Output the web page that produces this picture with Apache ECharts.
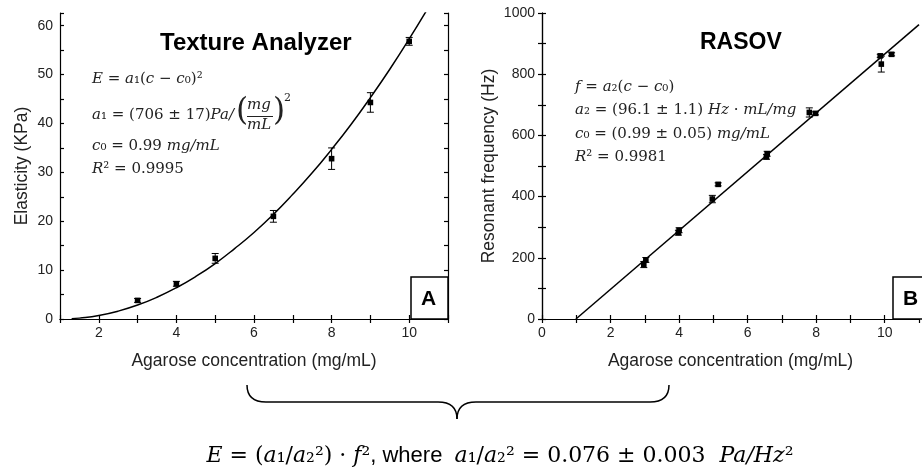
<!DOCTYPE html>
<html>
<head>
<meta charset="utf-8">
<script src="https://cdn.jsdelivr.net/npm/echarts@6/dist/echarts.min.js"></script>
<style>
html,body{margin:0;padding:0;background:#fff;}
#chart{width:922px;height:475px;}
</style>
</head>
<body>
<div id="chart"></div>
<script>
// ---- Panel A: Texture Analyzer ----
var taConc = [3, 4, 5, 6.5, 8, 9, 10];
var taElast = [3.8, 7.2, 12.4, 21.0, 32.8, 44.3, 56.8];
var taErr = [0.4, 0.5, 1.0, 1.2, 2.2, 2.0, 0.8];
var taFitConc = [1.3, 1.5, 2, 2.5, 3, 3.5, 4, 4.5, 5, 5.5, 6, 6.5, 7, 7.5, 8, 8.5, 9, 9.5, 10, 10.5];
var taFitElast = [0.07, 0.18, 0.72, 1.61, 2.85, 4.45, 6.4, 8.7, 11.35, 14.4, 17.7, 21.4, 25.5, 29.9, 34.7, 39.8, 45.3, 51.1, 57.3, 63.8];

// ---- Panel B: RASOV ----
var rConc = [2.97, 3.03, 3.98, 4.0, 4.97, 5.14, 6.55, 6.57, 7.8, 7.98, 9.87, 9.9, 10.2];
var rFreq = [178, 193, 282, 290, 392, 440, 530, 540, 675, 672, 860, 833, 865];
var rErr = [10, 8, 8, 8, 12, 5, 8, 8, 15, 5, 5, 26, 5];
var rFitConc = [0.99, 11];
var rFitFreq = [0, 962];

var xTicksA = [2, 4, 6, 8, 10];
var yTicksA = [0, 10, 20, 30, 40, 50, 60];
var xTicksB = [0, 2, 4, 6, 8, 10];
var yTicksB = [0, 200, 400, 600, 800, 1000];

function zip3(a, b, c) { return a.map(function (v, i) { return [v, b[i], c[i]]; }); }
function zip2(a, b) { return a.map(function (v, i) { return [v, b[i]]; }); }

var SANS = 'Liberation Sans, Arial, sans-serif';
var SERIF = 'DejaVu Serif, serif';

var mctx = document.createElement('canvas').getContext('2d');
function tw(font, s) { mctx.font = font; return mctx.measureText(s).width; }

function errRender(params, api) {
  var x = api.value(0), y = api.value(1), e = api.value(2);
  var p = api.coord([x, y]);
  var hi = api.coord([x, y + e]);
  var lo = api.coord([x, y - e]);
  var cw = 3.5, s = 2.8;
  var st = { stroke: '#000', lineWidth: 1 };
  return {
    type: 'group',
    children: [
      { type: 'line', shape: { x1: p[0], y1: hi[1], x2: p[0], y2: lo[1] }, style: st },
      { type: 'line', shape: { x1: p[0] - cw, y1: hi[1], x2: p[0] + cw, y2: hi[1] }, style: st },
      { type: 'line', shape: { x1: p[0] - cw, y1: lo[1], x2: p[0] + cw, y2: lo[1] }, style: st },
      { type: 'rect', shape: { x: p[0] - s, y: p[1] - s, width: 2 * s, height: 2 * s }, style: { fill: '#000' } }
    ]
  };
}

function labelFmt(list) {
  return function (v) { return list.indexOf(Math.round(v * 100) / 100) >= 0 ? String(v) : ''; };
}

var axisLineStyle = { show: true, lineStyle: { color: '#000', width: 1.2 } };
var tickStyle = { show: true, inside: true, length: 4, lineStyle: { color: '#000', width: 1.2 } };
var labelStyle = { color: '#222', fontFamily: SANS, fontSize: 14 };
var nameStyle = { color: '#222', fontFamily: SANS, fontSize: 17.5 };

function xMain(grid, min, max, ticks) {
  return {
    type: 'value', gridIndex: grid, min: min, max: max, interval: 1, position: 'bottom',
    axisLine: axisLineStyle, axisTick: tickStyle, splitLine: { show: false },
    axisLabel: Object.assign({ margin: 7, formatter: labelFmt(ticks), showMinLabel: true, showMaxLabel: true }, labelStyle),
    name: 'Agarose concentration (mg/mL)', nameLocation: 'middle', nameGap: 33, nameTextStyle: nameStyle
  };
}
function xTop(grid, min, max) {
  return {
    type: 'value', gridIndex: grid, min: min, max: max, interval: 1, position: 'top',
    axisLine: axisLineStyle, axisTick: tickStyle, splitLine: { show: false }, axisLabel: { show: false }
  };
}
function yMain(grid, min, max, iv, ticks, name, gap) {
  return {
    type: 'value', gridIndex: grid, min: min, max: max, interval: iv, position: 'left',
    axisLine: axisLineStyle, axisTick: tickStyle, splitLine: { show: false },
    axisLabel: Object.assign({ margin: 7, formatter: labelFmt(ticks) }, labelStyle),
    name: name, nameLocation: 'middle', nameGap: gap, nameRotate: 90, nameTextStyle: nameStyle
  };
}
function yRight(grid, min, max, iv) {
  return {
    type: 'value', gridIndex: grid, min: min, max: max, interval: iv, position: 'right',
    axisLine: axisLineStyle, axisTick: tickStyle, splitLine: { show: false }, axisLabel: { show: false }
  };
}

var chart = echarts.init(document.getElementById('chart'), null, { renderer: 'canvas' });

var eqI = { fontFamily: SERIF, fontStyle: 'italic', fontSize: 15, color: '#222' };
var eqR = { fontFamily: SERIF, fontSize: 15, color: '#222' };

function eqText(x, y, text) {
  return { type: 'text', x: x, y: y, z: 50, style: { text: text, rich: { i: eqI, r: eqR }, fill: '#222', font: '15px ' + SERIF } };
}
function txt(x, y, text, font, color, z) {
  return { type: 'text', x: x, y: y, z: z || 50, style: { text: text, font: font, fill: color || '#222' } };
}
var braceStyle = { fill: 'none', stroke: '#000', lineWidth: 1.5 };

// position of the stacked fraction after "a1 = (706 ± 17)Pa/"
var fx = 92 + tw('italic 15px DejaVu Serif', 'a') + tw('15px DejaVu Serif', '₁ = (706 ± 17)') + tw('italic 15px DejaVu Serif', 'Pa/') + 2;

// bottom equation width for centring
var BF = 22;
var bI = 'italic ' + BF + 'px DejaVu Serif', bR = BF + 'px DejaVu Serif', bS = BF + 'px Liberation Sans';
var bottomW = tw(bI, 'E') + tw(bR, ' = (') + tw(bI, 'a') + tw(bR, '₁/') + tw(bI, 'a') + tw(bR, '₂²) · ') + tw(bI, 'f') + tw(bR, '²') +
  tw(bS, ', where  ') + tw(bI, 'a') + tw(bR, '₁/') + tw(bI, 'a') + tw(bR, '₂² = 0.076 ± 0.003  ') + tw(bI, 'Pa/Hz') + tw(bR, '²');
var bottomX = 500 - bottomW / 2;

var option = {
  animation: false,
  backgroundColor: '#fff',
  grid: [
    { left: 60, right: 474, top: 13, bottom: 156 },
    { left: 542, right: -8, top: 13, bottom: 156 }
  ],
  xAxis: [xMain(0, 1, 11, xTicksA), xTop(0, 1, 11), xMain(1, 0, 11, xTicksB), xTop(1, 0, 11)],
  yAxis: [
    yMain(0, 0, 62.6, 5, yTicksA, 'Elasticity (KPa)', 29), yRight(0, 0, 62.6, 5),
    yMain(1, 0, 1000, 100, yTicksB, 'Resonant frequency (Hz)', 44), yRight(1, 0, 1000, 100)
  ],
  series: [
    { type: 'line', xAxisIndex: 0, yAxisIndex: 0, data: zip2(taFitConc, taFitElast), smooth: true, showSymbol: false, symbol: 'none',
      lineStyle: { color: '#000', width: 1.5 }, clip: true, z: 3 },
    { type: 'custom', xAxisIndex: 0, yAxisIndex: 0, data: zip3(taConc, taElast, taErr), renderItem: errRender, z: 4 },
    { type: 'line', xAxisIndex: 2, yAxisIndex: 2, data: zip2(rFitConc, rFitFreq), showSymbol: false, symbol: 'none',
      lineStyle: { color: '#000', width: 1.5 }, clip: true, z: 3 },
    { type: 'custom', xAxisIndex: 2, yAxisIndex: 2, data: zip3(rConc, rFreq, rErr), renderItem: errRender, z: 4 }
  ],
  graphic: [
    txt(160, 31, 'Texture Analyzer', 'bold 24px ' + SANS, '#000'),
    txt(700, 31, 'RASOV', 'bold 23px ' + SANS, '#000'),
    // panel letters
    { type: 'rect', shape: { x: 411, y: 277, width: 37, height: 42 }, style: { fill: '#fff', stroke: '#000', lineWidth: 1.5 }, z: 20 },
    txt(421, 289, 'A', 'bold 21px ' + SANS, '#000', 21),
    { type: 'rect', shape: { x: 893, y: 277, width: 37, height: 42 }, style: { fill: '#fff', stroke: '#000', lineWidth: 1.5 }, z: 20 },
    txt(903, 289, 'B', 'bold 21px ' + SANS, '#000', 21),
    // equations A
    eqText(92, 72, '{i|E}{r| = }{i|a}{r|₁(}{i|c}{r| − }{i|c}{r|₀)²}'),
    eqText(92, 108, '{i|a}{r|₁ = (706 ± 17)}{i|Pa/}'),
    txt(fx, 96, '(', '31px ' + SERIF),
    txt(fx + 11, 98, 'mg', 'italic 15px ' + SERIF),
    { type: 'line', z: 50, shape: { x1: fx + 11, y1: 116.5, x2: fx + 37, y2: 116.5 }, style: { stroke: '#222', lineWidth: 1 } },
    txt(fx + 11, 118, 'mL', 'italic 15px ' + SERIF),
    txt(fx + 37, 96, ')', '31px ' + SERIF),
    txt(fx + 48, 93, '2', '11px ' + SERIF),
    eqText(92, 139, '{i|c}{r|₀ = 0.99 }{i|mg/mL}'),
    eqText(92, 162, '{i|R}{r|² = 0.9995}'),
    // equations B
    eqText(575, 80, '{i|f}{r| = }{i|a}{r|₂(}{i|c}{r| − }{i|c}{r|₀)}'),
    eqText(575, 103, '{i|a}{r|₂ = (96.1 ± 1.1) }{i|Hz}{r| · }{i|mL/mg}'),
    eqText(575, 127, '{i|c}{r|₀ = (0.99 ± 0.05) }{i|mg/mL}'),
    eqText(575, 150, '{i|R}{r|² = 0.9981}'),
    // brace
    { type: 'bezierCurve', shape: { x1: 247, y1: 385, cpx1: 247, cpy1: 402, x2: 266, y2: 402 }, style: braceStyle },
    { type: 'line', shape: { x1: 266, y1: 402, x2: 438, y2: 402 }, style: braceStyle },
    { type: 'bezierCurve', shape: { x1: 438, y1: 402, cpx1: 457, cpy1: 402, x2: 457, y2: 419 }, style: braceStyle },
    { type: 'bezierCurve', shape: { x1: 457, y1: 419, cpx1: 457, cpy1: 402, x2: 476, y2: 402 }, style: braceStyle },
    { type: 'line', shape: { x1: 476, y1: 402, x2: 650, y2: 402 }, style: braceStyle },
    { type: 'bezierCurve', shape: { x1: 650, y1: 402, cpx1: 669, cpy1: 402, x2: 669, y2: 385 }, style: braceStyle },
    // bottom equation
    { type: 'text', x: bottomX, y: 445, style: {
        text: '{i|E}{r| = (}{i|a}{r|₁/}{i|a}{r|₂²) · }{i|f}{r|²}{s|, where  }{i|a}{r|₁/}{i|a}{r|₂² = 0.076 ± 0.003  }{i|Pa/Hz}{r|²}',
        rich: {
          i: { fontFamily: SERIF, fontStyle: 'italic', fontSize: BF, color: '#000' },
          r: { fontFamily: SERIF, fontSize: BF, color: '#000' },
          s: { fontFamily: SANS, fontSize: BF, color: '#000' }
        } } }
  ]
};
chart.setOption(option);
</script>
</body>
</html>
